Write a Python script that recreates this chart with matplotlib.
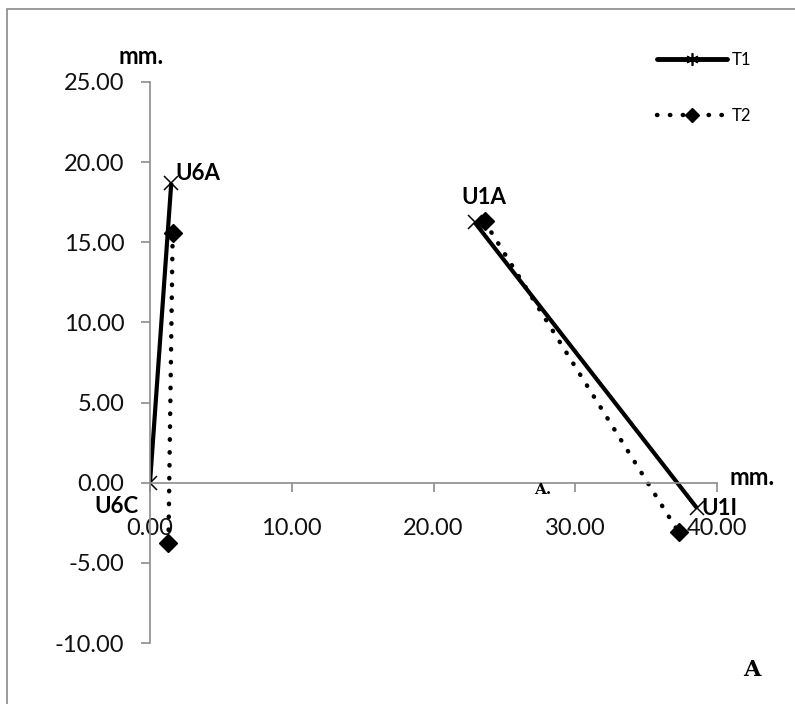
import matplotlib
matplotlib.use('Agg')
import matplotlib.pyplot as plt
from matplotlib.patches import Rectangle
from matplotlib.lines import Line2D

plt.rcParams['font.family'] = ['Lato', 'DejaVu Sans']

# T1 (solid, x markers): two segments U6C-U6A and U1A-U1I
t1_u6_x = [0.0, 1.5]
t1_u6_y = [0.0, 18.7]
t1_u1_x = [22.9, 38.6]
t1_u1_y = [16.25, -1.6]

# T2 (dotted, diamonds)
t2_u6_x = [1.3, 1.6]
t2_u6_y = [-3.75, 15.6]
t2_u1_x = [23.6, 37.3]
t2_u1_y = [16.3, -3.1]

xticks = [0, 10, 20, 30, 40]
yticks = [-10, -5, 0, 5, 10, 15, 20, 25]

fig = plt.figure(figsize=(7.95, 7.04), dpi=100)
ax = fig.add_axes([150/795, 1-643/704, (717-150)/795, (643-82)/704])

# figure border
fig.patches.append(Rectangle((7/795, -0.05), 1.2, 1.05-9/704, transform=fig.transFigure,
                             fill=False, edgecolor='#8a8a8a', linewidth=1.2))

t1_style = dict(color='black', linewidth=3, marker='x', markersize=10,
                markeredgewidth=1.1, solid_capstyle='butt')
t2_style = dict(color='black', linewidth=3.2, linestyle=(0, (0.1, 2.8)),
                dash_capstyle='round', marker='D', markersize=9)

ax.plot(t1_u6_x, t1_u6_y, **t1_style)
ax.plot(t1_u1_x, t1_u1_y, **t1_style)
ax.plot(t2_u6_x, t2_u6_y, **t2_style)
ax.plot(t2_u1_x, t2_u1_y, **t2_style)

ax.set_xlim(0, 40)
ax.set_ylim(-10, 25)
ax.spines['left'].set_position(('data', 0))
ax.spines['bottom'].set_position(('data', 0))
ax.spines['top'].set_visible(False)
ax.spines['right'].set_visible(False)
for s in ['left', 'bottom']:
    ax.spines[s].set_color('#8c8c8c')
    ax.spines[s].set_linewidth(1.2)

ax.set_xticks(xticks)
ax.set_yticks(yticks)
ax.set_xticklabels(['%.2f' % v for v in xticks])
ax.set_yticklabels(['%.2f' % v for v in yticks])
ax.tick_params(axis='both', direction='out', length=6.5, width=1.2, color='#8c8c8c',
               labelsize=17, labelcolor='#111111')
ax.tick_params(axis='x', pad=19)
ax.tick_params(axis='y', pad=12)
ax.patch.set_visible(False)

# point labels
lab = dict(fontsize=16, fontweight='bold', textcoords='offset points', va='center')
ax.annotate('U6A', (t1_u6_x[1], t1_u6_y[1]), xytext=(3, 7), ha='left', **lab)
ax.annotate('U6C', (t1_u6_x[0], t1_u6_y[0]), xytext=(-8.6, -17.3), ha='right', **lab)
ax.annotate('U1A', (t1_u1_x[0], t1_u1_y[0]), xytext=(7, 18), ha='center', **lab)
ax.annotate('U1I', (t1_u1_x[1], t1_u1_y[1]), xytext=(3, 0), ha='left', **lab)

ax.text(-0.64, 26.6, 'mm.', fontsize=17, fontweight='bold', ha='center', va='center',
        clip_on=False)
ax.text(40.9, 0.3, 'mm.', fontsize=17, fontweight='bold', ha='left', va='center',
        clip_on=False)
ax.text(27.7, -0.45, 'A.', fontsize=11, fontweight='bold', family='DejaVu Serif',
        ha='center', va='center')
fig.text(752/795, 1-670/704, 'A', fontsize=16, fontweight='bold', family='DejaVu Serif',
         ha='center', va='center')

# legend handles with the small markers used in the legend
h1 = Line2D([], [], color='black', linewidth=3.5, marker=(6, 2, 0), markersize=9,
            markeredgewidth=1.2, solid_capstyle='round')
h2 = Line2D([], [], color='black', linewidth=3.2, linestyle=(0, (0.1, 2.8)),
            dash_capstyle='round', marker='D', markersize=7)
fig.legend([h1, h2], ['T1', 'T2'], loc='upper left',
           bbox_to_anchor=(657/795, 1-52/704), frameon=False, fontsize=12,
           handlelength=4.2, handletextpad=0.3, labelspacing=2.4,
           borderpad=0, borderaxespad=0, numpoints=1)

plt.savefig('out.png', dpi=100)
